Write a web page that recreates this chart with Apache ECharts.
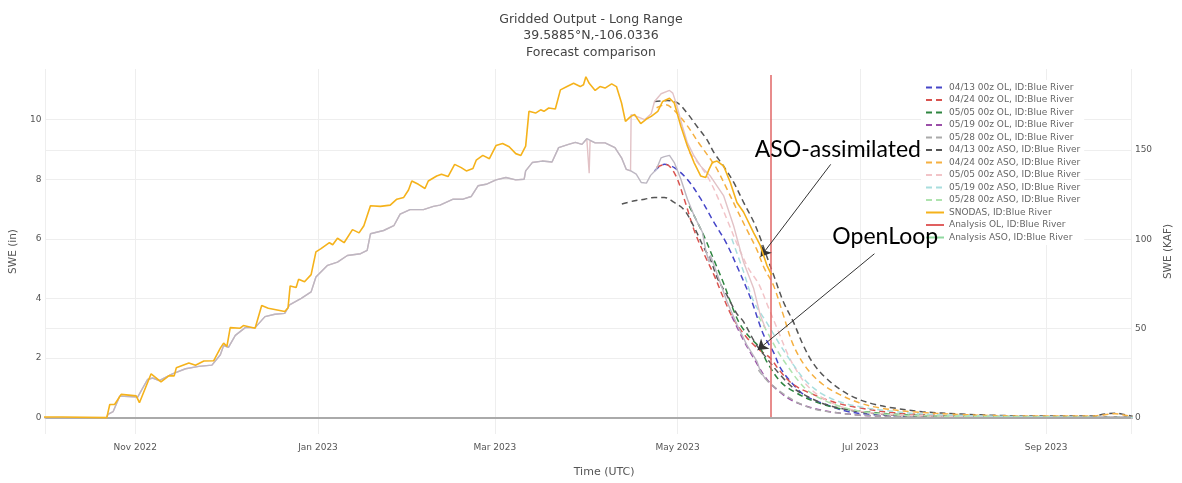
<!DOCTYPE html>
<html><head><meta charset="utf-8">
<script src="https://cdn.jsdelivr.net/npm/echarts@6/dist/echarts.min.js"></script>
<style>html,body{margin:0;padding:0;background:#fff}#c{width:1182px;height:483px}</style>
</head><body><div id="c"></div>
<script>
// x values: days since 2022-10-01 (start of water year); y values: SWE in inches
const leftTicks = [0, 2, 4, 6, 8, 10];
const rightTicks = [0, 50, 100, 150];
const kafPerInch = 16.71;
const currentDay = 243;

const snodas = [[0,0.02],[6.5,0.02],[7,0],[21.5,0],[22.5,0.44],[24.1,0.44],[26.3,0.78],[31.3,0.73],[32.4,0.5],[36.3,1.47],[39.6,1.2],[42.3,1.41],[44,1.4],[44.7,1.67],[48.9,1.83],[51.1,1.76],[53.9,1.9],[57.2,1.91],[59.4,2.33],[60.5,2.5],[61.6,2.39],[62.7,3.02],[66,3.0],[67.1,3.09],[71,3.0],[73.2,3.76],[75.4,3.67],[80.9,3.56],[82,3.69],[82.7,4.42],[84.7,4.37],[85.5,4.64],[87.5,4.56],[89.7,4.8],[91.3,5.56],[93,5.67],[95.8,5.87],[96.9,5.8],[98.5,6.02],[100.7,5.87],[103.5,6.31],[105.7,6.2],[107.3,6.44],[109.5,7.11],[112.8,7.09],[116.1,7.13],[118.3,7.33],[120.6,7.39],[122.2,7.64],[123.3,7.94],[125.5,7.83],[127.7,7.69],[128.8,7.94],[131.6,8.11],[133.2,8.17],[135.4,8.09],[137.6,8.5],[139.8,8.39],[141.5,8.28],[143.7,8.36],[144.8,8.64],[147,8.8],[149.2,8.69],[151.4,9.13],[153.6,9.2],[155.8,9.09],[158,8.86],[159.7,8.8],[161.3,9.11],[162.4,10.28],[164.6,10.22],[166.3,10.33],[167.4,10.28],[169,10.39],[171.2,10.36],[172.9,11.0],[175.1,11.11],[177.3,11.22],[179.5,11.11],[180.6,11.17],[181.4,11.44],[182.5,11.22],[184.5,10.98],[186.1,11.11],[187.8,11.06],[190,11.2],[191.6,11.11],[193.3,10.56],[194.6,9.94],[196.4,10.11],[197.7,10.17],[198.8,10.0],[199.7,9.87],[201.6,10.02],[203.2,10.11],[205.4,10.28],[207,10.61],[209.3,10.72],[210.9,10.56],[213.1,9.78],[215.3,9.11],[217.5,8.56],[219.7,8.11],[221.4,8.06],[222.5,8.33],[223.6,8.56],[225.2,8.61],[227.4,8.44],[229.6,7.89],[231.8,7.22],[234,6.9],[237.4,6.2],[239.6,5.78],[241.8,5.11],[243.4,4.78]];

const analysisOl = [[0,0],[21.5,0],[21.9,0.11],[23.6,0.2],[25.8,0.72],[31.8,0.69],[35.1,1.28],[36.8,1.33],[39,1.24],[43.4,1.47],[47.8,1.64],[52.2,1.72],[56.6,1.76],[59.4,2.11],[60.5,2.42],[62.1,2.36],[64.4,2.76],[67.7,3.02],[71,3.02],[74.3,3.39],[77.6,3.47],[80.9,3.5],[82.5,3.78],[86.4,4.0],[89.7,4.22],[91.3,4.72],[95.2,5.11],[98.5,5.22],[101.8,5.44],[106.2,5.5],[108.4,5.61],[109.5,6.17],[113.9,6.28],[117.3,6.44],[119.4,6.83],[122.7,6.98],[127.2,6.98],[130.5,7.09],[132.7,7.13],[137.1,7.33],[140.4,7.33],[143.1,7.42],[145.4,7.78],[148.1,7.83],[151.4,7.98],[154.7,8.06],[158,7.98],[160.8,8.0],[161.3,8.28],[163.5,8.56],[166.8,8.61],[170.1,8.58],[172.3,9.06],[175.6,9.17],[177.9,9.24],[180.1,9.17],[181.7,9.36],[184.5,9.22],[187.8,9.22],[191.1,9.06],[193.3,8.72],[194.9,8.33],[196.4,8.28],[198.2,8.17],[199.9,7.89],[201.6,7.87],[203,8.13],[204.9,8.33],[206.5,8.72],[207.6,8.76],[209.3,8.8],[210.9,8.56],[213.1,8.0],[215.3,7.33],[217.5,6.78],[220.3,6.22],[221.4,5.61],[222.5,5.22],[223,5.44],[228.5,3.89],[231.9,3.11],[235.1,2.44],[238.5,1.89],[239.6,1.56],[241.3,1.3]];

const analysisAsoLate = [[182.2,9.3],[182.5,8.2],[182.8,9.3],[184.5,9.22],[187.8,9.22],[191.1,9.06],[193.3,8.72],[194.9,8.33],[196.3,8.28],[196.5,10.17],[198.5,10.1],[201,10.0],[203.2,10.2],[204.3,10.61],[206.5,10.87],[209.3,10.98],[210.4,10.89],[211.5,10.56],[213.6,9.78],[215.3,9.22],[217.5,8.78],[219.7,8.44],[223,8.1],[227.4,7.44],[230.7,6.44],[234,5.22],[237.4,4.33],[239.6,3.44],[241.3,3.0]];

const fc0413Ol = [[204.3,8.28],[207.6,8.5],[210.9,8.39],[215.2,8.0],[219.8,7.33],[224.1,6.56],[228.1,5.89],[231.7,5.11],[236.4,4.0],[240.7,2.78],[244,2.2],[246.3,1.67],[250.6,1.11],[254.9,0.72],[261.5,0.44],[268.1,0.22],[276,0.11],[290,0.04],[316.7,0.01],[364,0]];
const fc0424Ol = [[205,8.4],[208,8.5],[211,8.2],[214,7.4],[217.5,6.3],[220.8,5.5],[224.1,4.8],[227.4,4.0],[230.7,3.3],[235,2.7],[239,2.3],[242.9,2.0],[246.2,1.56],[250.6,1.11],[257.2,0.78],[264.8,0.5],[272.6,0.33],[283.6,0.17],[300,0.07],[330,0.02],[364,0]];
const fc0505Ol = [[215.9,7.1],[220.8,6.1],[224.1,5.3],[227.4,4.5],[230.7,3.6],[233,3.11],[236.3,2.67],[239.6,2.33],[241.7,1.89],[246.2,1.22],[250.6,0.89],[257.2,0.56],[264.8,0.33],[272.6,0.22],[283.6,0.12],[300,0.05],[330,0.01],[364,0]];
const fc0519Ol = [[230.1,3.4],[234,2.6],[237.4,2.0],[241.7,1.3],[246.2,0.85],[250.6,0.55],[256.1,0.35],[261.5,0.22],[267.1,0.14],[277,0.06],[300,0.02],[364,0]];
const fc0528Ol = [[239,1.6],[242.3,1.2],[247.3,0.8],[252.2,0.5],[257.2,0.3],[263.8,0.18],[273.7,0.08],[300,0.02],[364,0]];
const fc0413AsoLow = [[193.4,7.17],[197.7,7.28],[201,7.33],[204.3,7.39],[207.6,7.39],[210.9,7.22],[214.2,6.97],[217.5,6.4],[220.8,5.7],[223,5.3],[225.2,4.7],[228.5,4.1],[231.7,3.5],[234,3.22],[238.3,2.44],[241.7,2.0],[246.2,1.44],[250.6,1.0],[256.1,0.67],[261.5,0.44],[268.1,0.28],[276,0.15],[290,0.06],[316.7,0.02],[364,0]];
const fc0413AsoHigh = [[204.3,10.61],[208.6,10.64],[212,10.56],[215.2,10.22],[218.5,9.77],[221.8,9.33],[224.1,8.9],[227.4,8.43],[230.7,7.9],[234,7.23],[237.4,6.57],[239.7,6.0],[241.7,5.43],[244,4.8],[247.3,3.89],[250.6,3.22],[253.9,2.44],[257.2,1.83],[261.5,1.33],[267.1,0.89],[272.6,0.61],[278,0.44],[283.6,0.33],[293.6,0.2],[306.8,0.12],[316.7,0.08],[333,0.05],[349.8,0.05],[354.7,0.12],[358,0.15],[361.3,0.1],[364,0.04]];
const fc0424Aso = [[205,10.4],[208,10.5],[211,10.3],[215.2,9.8],[219.2,9.2],[223,8.67],[225.2,8.33],[228.5,7.67],[231.7,7.0],[235,6.33],[238.3,5.67],[241,5.0],[244,4.44],[247.3,3.44],[250.6,2.44],[255,1.67],[260.5,1.11],[266,0.78],[272.6,0.5],[279.2,0.33],[290,0.2],[306.8,0.1],[333,0.05],[349.8,0.05],[354.7,0.1],[358,0.13],[361.3,0.08],[364,0.03]];
const fc0505Aso = [[215.9,8.9],[219.2,8.5],[222.5,8.0],[225.8,7.3],[229.1,6.5],[232.4,5.7],[235.7,5.0],[239,4.5],[242.3,3.7],[245.6,2.9],[248.9,2.1],[252.2,1.5],[255.5,1.05],[260.5,0.65],[267.1,0.35],[273.7,0.2],[283.6,0.1],[300,0.05],[364,0]];
const fc0519Aso = [[230.1,6.0],[234,4.9],[237.4,3.9],[241.7,3.2],[246.2,2.44],[250.6,1.78],[254.9,1.22],[260.5,0.78],[267.1,0.5],[274.7,0.33],[281.3,0.24],[293.6,0.12],[316.7,0.05],[364,0]];
const fc0528Aso = [[239,3.4],[242.3,2.8],[245.6,2.2],[248.9,1.7],[252.2,1.25],[255.5,0.9],[260.5,0.6],[267.1,0.35],[273.7,0.2],[283.6,0.1],[300,0.05],[364,0]];

const annotations = [
  {text: 'ASO-assimilated', at: [265.5, 9.0], from: [263.1, 8.5], to: [239.7, 5.4]},
  {text: 'OpenLoop', at: [281.3, 6.07], from: [277.7, 5.5], to: [238.7, 2.27]}
];

const DAY = 86400000;
const base = new Date(2022, 9, 1).getTime();
const t = d => base + d * DAY;
const conv = arr => arr.map(p => [t(p[0]), p[1]]);
const FONT = 'DejaVu Sans';

const forecasts = [
  {name: '04/13 00z OL, ID:Blue River', color: '#4646c8', data: conv(fc0413Ol)},
  {name: '04/24 00z OL, ID:Blue River', color: '#d9534f', data: conv(fc0424Ol)},
  {name: '05/05 00z OL, ID:Blue River', color: '#2e8540', data: conv(fc0505Ol)},
  {name: '05/19 00z OL, ID:Blue River', color: '#9b4fa8', data: conv(fc0519Ol)},
  {name: '05/28 00z OL, ID:Blue River', color: '#aaaaaa', data: conv(fc0528Ol)},
  {name: '04/13 00z ASO, ID:Blue River', color: '#555555', data: conv(fc0413AsoLow).concat([[t(204), '-']], conv(fc0413AsoHigh))},
  {name: '04/24 00z ASO, ID:Blue River', color: '#f5b041', data: conv(fc0424Aso)},
  {name: '05/05 00z ASO, ID:Blue River', color: '#f2c4c8', data: conv(fc0505Aso)},
  {name: '05/19 00z ASO, ID:Blue River', color: '#a8dede', data: conv(fc0519Aso)},
  {name: '05/28 00z ASO, ID:Blue River', color: '#aee3ae', data: conv(fc0528Aso)}
];

const series = forecasts.map(f => ({
  name: f.name, type: 'line', data: f.data, symbol: 'none', smooth: 0.35,
  lineStyle: {color: f.color, width: 1.5, type: [6, 4]}, itemStyle: {color: f.color}, z: 3
}));

const analysisAso = analysisOl.filter(p => p[0] < 182).concat(analysisAsoLate);

series.push({
  name: 'SNODAS, ID:Blue River', type: 'line', data: conv(snodas), symbol: 'none',
  lineStyle: {color: '#f5b21b', width: 1.6}, itemStyle: {color: '#f5b21b'}, z: 6,
  markLine: {silent: true, symbol: 'none', label: {show: false},
    lineStyle: {color: '#e06666', width: 1.5, type: 'solid'},
    data: [[{coord: [t(currentDay), 0]}, {coord: [t(currentDay), 11.5]}]]}
});
series.push({
  name: 'Analysis ASO, ID:Blue River', type: 'line', data: conv(analysisAso), symbol: 'none',
  lineStyle: {color: '#e2c2c6', width: 1.4}, itemStyle: {color: '#e2c2c6'}, z: 4
});
series.push({
  name: 'Analysis OL, ID:Blue River', type: 'line', data: conv(analysisOl), symbol: 'none',
  lineStyle: {color: '#bcb7c2', width: 1.4}, itemStyle: {color: '#bcb7c2'}, z: 5,
  markLine: {silent: true, symbol: 'none', label: {show: false},
    lineStyle: {color: '#aaaaaa', width: 2, type: 'solid'}, data: [{yAxis: 0}]}
});
series.push({
  name: 'annot', type: 'line', data: [], z: 10,
  markLine: {silent: true, symbol: ['none', 'arrow'], symbolSize: 10, label: {show: false},
    lineStyle: {color: '#333', width: 1, type: 'solid'},
    data: annotations.map(a => [{coord: [t(a.from[0]), a.from[1]]}, {coord: [t(a.to[0]), a.to[1]]}])}
});

const legendNames = forecasts.map(f => f.name).concat(['SNODAS, ID:Blue River', 'Analysis OL, ID:Blue River', 'Analysis ASO, ID:Blue River']);
const legendOverride = {'Analysis OL, ID:Blue River': '#e06060', 'Analysis ASO, ID:Blue River': '#90d8a0'};

const chart = echarts.init(document.getElementById('c'), null, {renderer: 'canvas'});
const option = {
  animation: false,
  backgroundColor: '#fff',
  title: {
    text: 'Gridded Output - Long Range\n39.5885°N,-106.0336\nForecast comparison',
    left: 'center', top: 6,
    textStyle: {fontSize: 12.5, fontWeight: 'normal', color: '#444', fontFamily: FONT, lineHeight: 16.5}
  },
  grid: {left: 45, right: 39, top: 69, bottom: 46.5},
  legend: {
    orient: 'vertical', left: 921, top: 80, itemWidth: 18, itemHeight: 8, itemGap: 3.5,
    padding: [3, 4], backgroundColor: '#fff',
    textStyle: {fontSize: 9, color: '#666', fontFamily: FONT, lineHeight: 9},
    itemStyle: {opacity: 0},
    data: legendNames.map(n => legendOverride[n] ? {name: n, lineStyle: {color: legendOverride[n]}, itemStyle: {opacity: 0}} : {name: n})
  },
  xAxis: {
    type: 'time', min: t(1), max: t(363.3), splitNumber: 5, minInterval: 61 * DAY, maxInterval: 85 * DAY,
    axisLine: {show: false}, axisTick: {show: false},
    splitLine: {show: true, lineStyle: {color: '#eeeeee', width: 1}},
    axisLabel: {formatter: '{MMM} {yyyy}', fontSize: 9, color: '#555', fontFamily: FONT, margin: 9},
    name: 'Time (UTC)', nameLocation: 'middle', nameGap: 33,
    nameTextStyle: {fontSize: 11, color: '#555', fontFamily: FONT, padding: [0, 0, 0, 32]}
  },
  yAxis: [{
    type: 'value', position: 'left', min: -0.55, max: 11.7,
    axisLine: {show: false}, axisTick: {show: false, customValues: leftTicks},
    axisLabel: {customValues: leftTicks, fontSize: 9, color: '#555', fontFamily: FONT, margin: 4},
    splitLine: {show: true, lineStyle: {color: '#eeeeee', width: 1}},
    name: 'SWE (in)', nameLocation: 'middle', nameGap: 25, nameRotate: 90,
    nameTextStyle: {fontSize: 10.5, color: '#555', fontFamily: FONT}
  }, {
    type: 'value', position: 'right', min: -0.55 * kafPerInch, max: 11.7 * kafPerInch,
    axisLine: {show: false}, axisTick: {show: false, customValues: rightTicks},
    axisLabel: {customValues: rightTicks, fontSize: 9, color: '#555', fontFamily: FONT, margin: 4},
    splitLine: {show: true, lineStyle: {color: '#eeeeee', width: 1}},
    name: 'SWE (KAF)', nameLocation: 'middle', nameGap: 29, nameRotate: 90,
    nameTextStyle: {fontSize: 10.5, color: '#555', fontFamily: FONT}
  }],
  series: series
};
chart.setOption(option);
const texts = annotations.map(a => {
  const p = chart.convertToPixel({xAxisIndex: 0, yAxisIndex: 0}, [t(a.at[0]), a.at[1]]);
  return {type: 'text', x: p[0], y: p[1], z: 100,
    style: {text: a.text, font: '23px Lato', fill: '#000', align: 'center', verticalAlign: 'middle'}};
});
chart.setOption({graphic: texts});
</script>
</body></html>
